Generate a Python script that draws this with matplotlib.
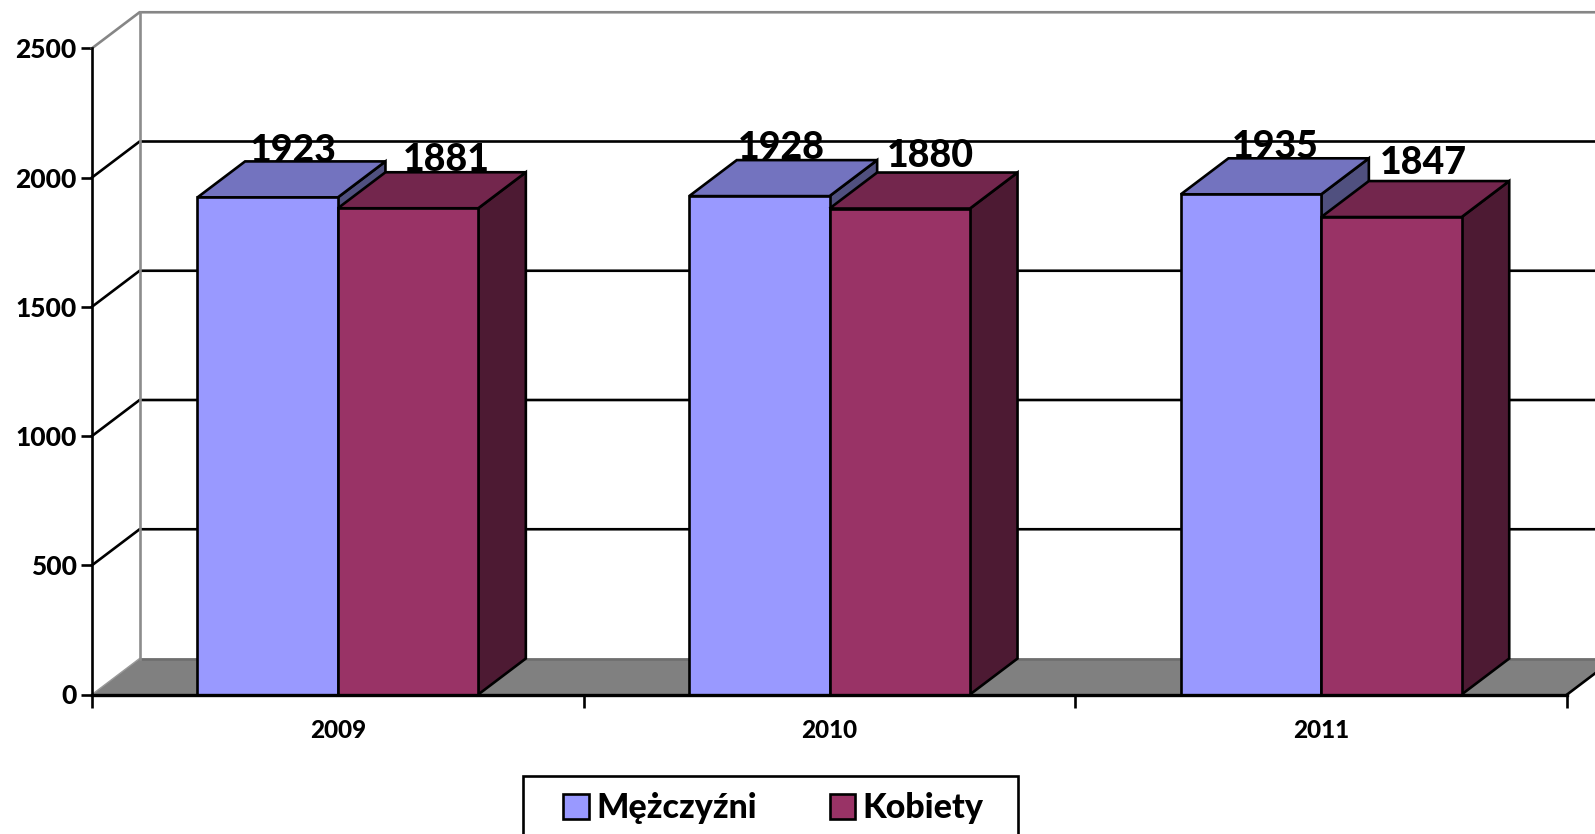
import matplotlib
matplotlib.use('Agg')
import matplotlib.pyplot as plt
from matplotlib.patches import Polygon, Patch, Rectangle

plt.rcParams['font.family'] = ['Lato', 'DejaVu Sans']

years = ['2009', '2010', '2011']
men = [1923, 1928, 1935]
women = [1881, 1880, 1847]
y_ticks = [0, 500, 1000, 1500, 2000, 2500]
series_names = ['Mężczyźni', 'Kobiety']

# front / top / side colours
men_colors = ['#9999FF', '#7373BF', '#50507F']
women_colors = ['#993366', '#73264D', '#4D1A33']

W, H = 1595, 834
PX_X = 491.7   # pixels for one category
PX_Y = 0.2585  # pixels for one value unit
DX = 47.6 / PX_X
DY = 36 / PX_Y
LW = 1.9
WEIGHT = 'black'

fig = plt.figure(figsize=(W / 100, H / 100), dpi=100)
ax = fig.add_axes([0, 0, 1, 1])
ax.set_xlim(-92 / PX_X, (W - 92) / PX_X)
ax.set_ylim(-(H - 694.5) / PX_Y, 694.5 / PX_Y)
x_end = len(years)
x_far = ax.get_xlim()[1]


def box(x, w, h, colors):
    front = [(x, 0), (x + w, 0), (x + w, h), (x, h)]
    top = [(x, h), (x + w, h), (x + w + DX, h + DY), (x + DX, h + DY)]
    side = [(x + w, 0), (x + w + DX, DY), (x + w + DX, h + DY), (x + w, h)]
    for pts, c in ((side, colors[2]), (top, colors[1]), (front, colors[0])):
        ax.add_patch(Polygon(pts, closed=True, facecolor=c, edgecolor='black',
                             linewidth=LW, joinstyle='miter', zorder=5))


# floor
ax.add_patch(Polygon([(0, 0), (x_end, 0), (x_end + DX, DY), (DX, DY)], closed=True,
                     facecolor='#808080', edgecolor='none', zorder=1))
ax.plot([DX, x_far], [DY, DY], color='#6E6E6E', lw=LW, zorder=2)
ax.plot([0, DX], [0, DY], color='#9A9A9A', lw=1, zorder=2)
ax.plot([x_end, x_end + DX], [0, DY], color='black', lw=LW, zorder=2)

# walls
for t in y_ticks[1:]:
    c = '#868686' if t == y_ticks[-1] else 'black'
    ax.plot([0, DX, x_far], [t, t + DY, t + DY], color=c, lw=LW, zorder=2,
            solid_joinstyle='miter')
ax.plot([DX, DX], [DY, y_ticks[-1] + DY], color='#8C8C8C', lw=LW, zorder=3)

# bars
bar_w = 0.2855
gap = 0.2145
for i in range(len(years)):
    box(i + gap, bar_w, men[i], men_colors)
    box(i + gap + bar_w, bar_w, women[i], women_colors)

# value labels, they are not placed quite evenly in the original
men_nudge = [(2, -5), (-2, -3), (0, -4)]
women_nudge = [(14, -3), (7, 2), (8, 3)]
for i in range(len(years)):
    for s, (vals, nudge) in enumerate(((men, men_nudge), (women, women_nudge))):
        x = i + gap + bar_w * (s + 0.5) + DX / 2 + nudge[i][0] / PX_X
        y = vals[i] + DY + (15 + nudge[i][1]) / PX_Y
        ax.text(x, y, str(vals[i]), fontsize=27, fontweight=WEIGHT, ha='center',
                va='center', zorder=6)

# axes
for name in ('top', 'right'):
    ax.spines[name].set_visible(False)
ax.spines['left'].set_position(('data', 0))
ax.spines['bottom'].set_position(('data', 0))
ax.spines['left'].set_bounds(0, y_ticks[-1])
ax.spines['bottom'].set_bounds(0, x_end)
ax.spines['left'].set_linewidth(LW)
ax.spines['bottom'].set_linewidth(2.4)
ax.spines['left'].set_zorder(7)
ax.spines['bottom'].set_zorder(7)

ax.set_yticks(y_ticks)
ax.set_yticklabels([str(t) for t in y_ticks], fontsize=19, fontweight=WEIGHT)
ax.tick_params(axis='y', direction='out', length=8, width=LW, pad=3)
ax.set_xticks(range(x_end + 1))
ax.set_xticklabels([])
ax.tick_params(axis='x', direction='out', length=9, width=LW)
ax.set_xticks([i + 0.5 for i in range(x_end)], minor=True)
ax.set_xticklabels(years, minor=True, fontsize=17.5, fontweight=WEIGHT)
ax.tick_params(axis='x', which='minor', length=0, pad=18)

# legend box runs off the bottom of the picture
fig.add_artist(Rectangle((523 / W, -0.02), 494.5 / W, 1 - 776 / H + 0.02,
                         transform=fig.transFigure, facecolor='white',
                         edgecolor='black', linewidth=LW))
handles = [Patch(facecolor=men_colors[0], edgecolor='black', linewidth=LW),
           Patch(facecolor=women_colors[0], edgecolor='black', linewidth=LW)]
fig.legend(handles, series_names, ncol=2, loc='center left',
           bbox_to_anchor=(563 / W, 1 - 808 / H), borderaxespad=0, frameon=False,
           prop={'size': 24.5, 'weight': WEIGHT}, handlelength=0.75, handleheight=0.75,
           handletextpad=0.22, columnspacing=2.15, borderpad=0)

fig.savefig('out.png', dpi=100)
